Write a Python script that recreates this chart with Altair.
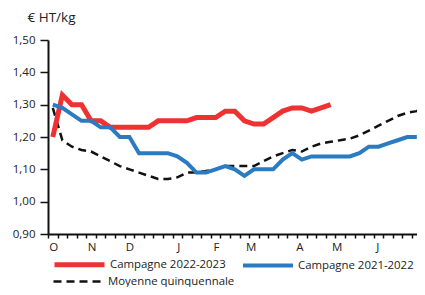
import altair as alt
import pandas as pd

# Weekly values (week index 0 = first week of October)
red = [1.20, 1.33, 1.30, 1.30, 1.25, 1.25, 1.23, 1.23, 1.23, 1.23, 1.23, 1.25, 1.25, 1.25, 1.25,
       1.26, 1.26, 1.26, 1.28, 1.28, 1.25, 1.24, 1.24, 1.26, 1.28, 1.29, 1.29, 1.28, 1.29, 1.30]
blue = [1.30, 1.29, 1.27, 1.25, 1.25, 1.23, 1.23, 1.20, 1.20, 1.15, 1.15, 1.15, 1.15, 1.14, 1.12,
        1.09, 1.09, 1.10, 1.11, 1.10, 1.08, 1.10, 1.10, 1.10, 1.13, 1.15, 1.13, 1.14, 1.14, 1.14,
        1.14, 1.14, 1.15, 1.17, 1.17, 1.18, 1.19, 1.20, 1.20]
avg = [1.29, 1.19, 1.17, 1.16, 1.155, 1.14, 1.125, 1.11, 1.10, 1.09, 1.08, 1.07, 1.07, 1.075, 1.09,
       1.09, 1.095, 1.10, 1.11, 1.11, 1.11, 1.11, 1.125, 1.14, 1.15, 1.16, 1.155, 1.17, 1.18, 1.185,
       1.19, 1.195, 1.205, 1.22, 1.235, 1.25, 1.265, 1.275, 1.28, 1.30]

campaign_names = ["Campagne 2022-2023", "Campagne 2021-2022"]
campaign_colors = ["#EE3232", "#2B7BC2"]
campaign_widths = [5, 4]
avg_name = "Moyenne quinquennale"

month_labels = ["O", "N", "D", "J", "F", "M", "A", "M", "J", "J"]
month_pos = [0.55, 4.56, 8.49, 13.6, 17.54, 21.16, 26.23, 30.14, 34.37, 39.5]
y_ticks = [0.9, 1.0, 1.1, 1.2, 1.3, 1.4, 1.5]
week_px = 9.58
plot_w = 369
n_weeks = plot_w / week_px

rows = []
for name, vals in zip(campaign_names, [red, blue]):
    for k, v in enumerate(vals):
        rows.append({"serie": name, "w": k + 0.5, "v": v})
df_c = pd.DataFrame(rows)
df_a = pd.DataFrame({"serie": [avg_name] * len(avg),
                     "w": [k + 0.5 for k in range(len(avg))], "v": avg})

arr = "[" + ",".join(repr(p) for p in month_pos) + "]"
labs = "[" + ",".join("'" + m + "'" for m in month_labels) + "]"
label_expr = f"indexof({arr}, datum.value) >= 0 ? {labs}[indexof({arr}, datum.value)] : ''"
x_values = list(range(0, int(n_weeks) + 1)) + [p for p in month_pos if p < n_weeks]

x_enc = alt.X("w:Q",
              scale=alt.Scale(domain=[0, n_weeks], nice=False, zero=False),
              axis=alt.Axis(values=x_values, labelExpr=label_expr, title=None, grid=False,
                            tickSize=4, tickWidth=1.5, tickColor="#111",
                            tickOpacity={"condition": {"test": "datum.value == floor(datum.value)", "value": 1}, "value": 0},
                            domainColor="#111", domainWidth=2,
                            labelOverlap=False, labelFlush=False, labelBound=False,
                            labelPadding=3, labelFontSize=11.5, labelColor="#222",
                            labelFont="Open Sans"))
y_enc = alt.Y("v:Q",
              scale=alt.Scale(domain=[0.9, 1.5], nice=False, zero=False),
              axis=alt.Axis(values=y_ticks, labelExpr="replace(format(datum.value, '.2f'), '.', ',')",
                            title="€ HT/kg", titleAngle=0, titleAlign="left", titleBaseline="alphabetic",
                            titleX=-21, titleY=-19, titleFont="Open Sans", titleFontSize=13.5,
                            titleFontWeight="normal", titleColor="#222",
                            grid=False, tickSize=8, tickWidth=1.5, tickColor="#111",
                            domainColor="#111", domainWidth=2,
                            labelPadding=5, labelFontSize=11.5, labelColor="#222",
                            labelFont="Open Sans"))

legend_common = dict(title=None, orient="none", direction="horizontal", padding=0,
                     symbolType="stroke", symbolSize=2500,
                     labelFont="Open Sans", labelFontSize=11.4, labelColor="#222",
                     labelOffset=3, columnPadding=9)

avg_line = alt.Chart(df_a).mark_line(strokeWidth=2.5, strokeDash=[8, 5], strokeCap="butt",
                                     color="#111", clip=True).encode(
    x=x_enc, y=y_enc,
    strokeDash=alt.StrokeDash("serie:N",
                              scale=alt.Scale(domain=[avg_name], range=[[8, 5]]),
                              legend=alt.Legend(legendX=4, legendY=215, symbolStrokeColor="#111",
                                                symbolStrokeWidth=2.5, **legend_common)),
    order=alt.Order("w:Q"),
)

campaign_lines = alt.Chart(df_c).mark_line(strokeJoin="miter", strokeCap="butt", clip=True).encode(
    x=x_enc, y=y_enc,
    color=alt.Color("serie:N",
                    scale=alt.Scale(domain=campaign_names, range=campaign_colors),
                    sort=campaign_names,
                    legend=alt.Legend(legendX=4, legendY=197, symbolStrokeWidth=3.5, **legend_common)),
    strokeWidth=alt.StrokeWidth("serie:N",
                                scale=alt.Scale(domain=campaign_names, range=campaign_widths),
                                legend=None),
    order=alt.Order("w:Q"),
)

chart = alt.layer(avg_line, campaign_lines).properties(
    width=plot_w,
    height=194,
    autosize=alt.AutoSizeParams(type="none"),
    padding={"left": 40, "top": 32, "right": 0, "bottom": 53},
).configure_view(stroke=None)

chart.save("out.html", embed_options={"renderer": "svg", "actions": False})
